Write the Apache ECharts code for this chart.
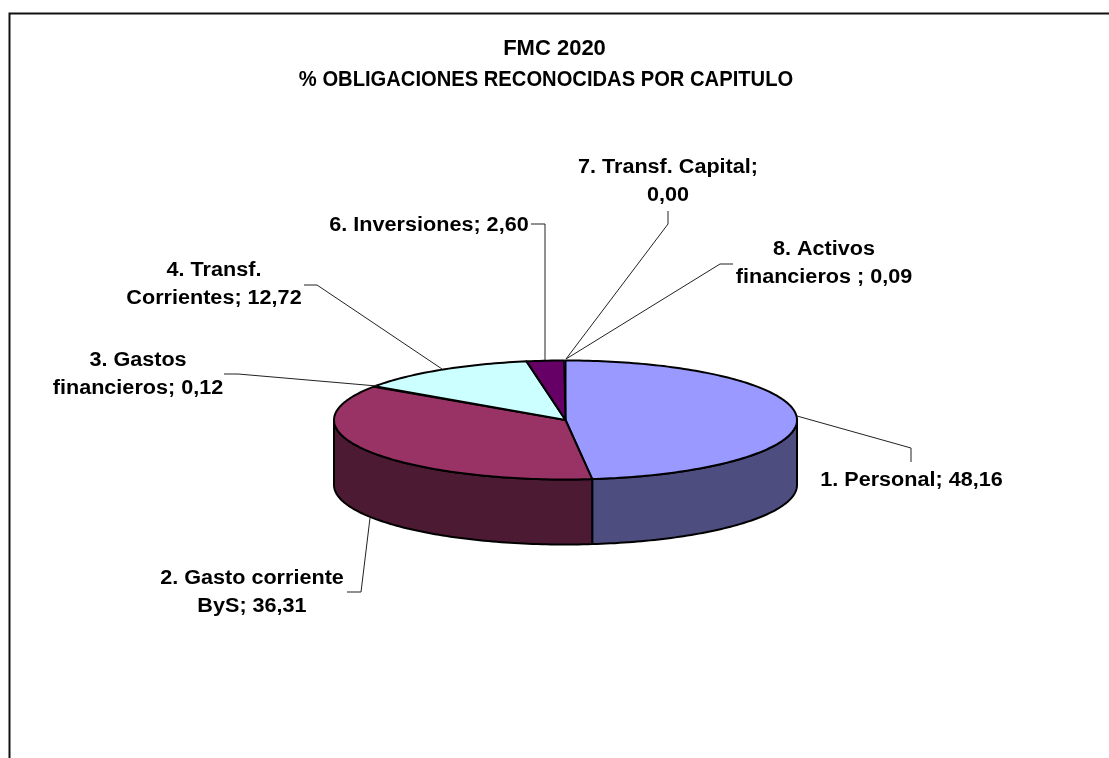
<!DOCTYPE html>
<html><head><meta charset="utf-8">
<style>html,body{margin:0;padding:0;background:#fff}#c{width:1109px;height:758px}</style>
<script src="https://cdn.jsdelivr.net/npm/echarts@6/dist/echarts.min.js"></script>
</head><body><div id="c"></div>
<script>
const categories = ['1. Personal','2. Gasto corriente ByS','3. Gastos financieros','4. Transf. Corrientes','6. Inversiones','7. Transf. Capital','8. Activos financieros '];
const values = [48.16,36.31,0.12,12.72,2.60,0.00,0.09];
const topColors = ['#9999FF','#993366','#FFFFCC','#CCFFFF','#660066','#CCFFFF','#0066CC'];
const sideColors = ['#4D4D80','#4D1A33','#808066','#668080','#330033','#668080','#003366'];
const titleLines = ['FMC 2020','% OBLIGACIONES RECONOCIDAS POR CAPITULO'];
const labelLines = [
 ['1. Personal; 48,16'],
 ['2. Gasto corriente','ByS; 36,31'],
 ['3. Gastos','financieros; 0,12'],
 ['4. Transf.','Corrientes; 12,72'],
 ['6. Inversiones; 2,60'],
 ['7. Transf. Capital;','0,00'],
 ['8. Activos','financieros ; 0,09']
];
const labelCenters = [[911.5,480],[252,592],[138,374],[214,284],[429,225],[668,181],[824,263.5]];
const leaderLines = [
 [[797,416],[911,448],[911,462]],
 [[370,518],[361,592],[347,592]],
 [[377,386],[238,374],[224,374]],
 [[442,369],[317,285],[304,285]],
 [[545,360],[545,224],[531,224]],
 [[566,359],[668,224],[668,211]],
 [[566,359],[720,264],[733,264]]
];
const cx=565.5, cy=420, rx=231.5, ry=59.5, depth=65;
const total = values.reduce((a,b)=>a+b,0);
const font = '"Liberation Sans", Arial, sans-serif';
function pt(a,dy){return [cx+rx*Math.sin(a), cy-ry*Math.cos(a)+(dy||0)];}
function arc(a0,a1,dy){
  const n=Math.max(2,Math.ceil((a1-a0)/0.02)),out=[];
  for(let i=0;i<=n;i++) out.push(pt(a0+(a1-a0)*i/n,dy));
  return out;
}
function renderItem(params,api){
  const i=params.dataIndex;
  let s=0; for(let k=0;k<i;k++) s+=values[k];
  const a0=s/total*2*Math.PI, a1=(s+api.value(0))/total*2*Math.PI;
  const children=[];
  if(a1>a0){
    const sa=Math.max(a0,Math.PI/2), ea=Math.min(a1,Math.PI*1.5);
    if(ea>sa){
      const f=arc(sa,ea,0), b=arc(sa,ea,depth).reverse();
      children.push({type:'polygon',shape:{points:f.concat(b)},style:{fill:sideColors[i],stroke:'#000',lineWidth:2,lineJoin:'round'}});
    }
    const thin=(a1-a0)<0.03;
    children.push({type:'polygon',shape:{points:[[cx,cy]].concat(arc(a0,a1,0))},style:{fill:topColors[i],stroke:'#000',lineWidth:thin?1:2,lineJoin:'round'}});
  }
  children.push({type:'polyline',z2:5,shape:{points:leaderLines[i]},style:{fill:null,stroke:'#222',lineWidth:1}});
  const lines=labelLines[i];
  lines.forEach((t,j)=>{
    children.push({type:'text',z2:6,x:labelCenters[i][0],y:labelCenters[i][1]+(j-(lines.length-1)/2)*28,scaleX:1.08,
      style:{text:t,x:0,y:0,align:'center',verticalAlign:'middle',font:'bold 20px '+font,fill:'#000'}});
  });
  return {type:'group',children};
}
const chart=echarts.init(document.getElementById('c'),null,{renderer:'canvas'});
chart.setOption({
  animation:false,
  backgroundColor:'#fff',
  graphic:[
   {type:'polyline',z:10,silent:true,shape:{points:[[9.5,760],[9.5,13.5],[1110,13.5]]},style:{fill:null,stroke:'#111',lineWidth:2}},
   {type:'text',z:10,silent:true,x:554.5,y:49,scaleX:1,style:{text:titleLines[0],x:0,y:0,align:'center',verticalAlign:'middle',font:'bold 22px '+font,fill:'#000'}},
   {type:'text',z:10,silent:true,x:546,y:80,scaleX:0.917,style:{text:titleLines[1],x:0,y:0,align:'center',verticalAlign:'middle',font:'bold 22px '+font,fill:'#000'}}
  ],
  series:[{type:'custom',coordinateSystem:'none',clip:false,renderItem,
    data:values.map((v,i)=>({name:categories[i],value:[v]}))}]
});
</script></body></html>
